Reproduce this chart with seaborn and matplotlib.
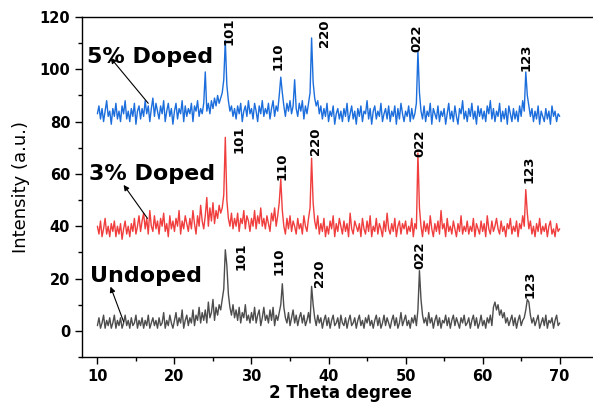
import numpy as np
import pandas as pd
import seaborn as sns
import matplotlib.pyplot as plt
from matplotlib.ticker import MultipleLocator

sns.set_theme(style="ticks")
plt.rcParams['font.family'] = ['DejaVu Sans']
plt.rcParams.update({"text.color": "black", "axes.labelcolor": "black",
                     "xtick.color": "black", "ytick.color": "black"})

# 2-theta grid (degrees), 0.2 deg step from 10 to 70
two_theta = np.round(np.arange(10.0, 70.01, 0.2), 1)

# Intensities, one row per 2 degrees
undoped = [
    2, 5, 1, 3, 6, 1, 4, 2, 5, 1,
    3, 6, 1, 4, 2, 5, 1, 3, 6, 2,
    4, 1, 5, 2, 3, 6, 1, 4, 2, 5,
    1, 4, 2, 6, 1, 3, 5, 2, 4, 1,
    5, 2, 3, 7, 1, 4, 2, 6, 3, 1,
    4, 7, 2, 5, 3, 8, 1, 4, 6, 2,
    5, 3, 8, 2, 6, 4, 9, 3, 7, 4,
    8, 3, 11, 5, 7, 12, 4, 9, 6, 10,
    8, 12, 16, 31, 25, 14, 9, 6, 10, 5,
    8, 4, 9, 3, 7, 5, 10, 4, 6, 3,
    7, 4, 9, 3, 6, 8, 2, 5, 9, 4,
    6, 3, 8, 4, 9, 2, 6, 4, 7, 10,
    18, 9, 5, 3, 7, 2, 5, 8, 3, 6,
    2, 5, 7, 3, 6, 2, 4, 7, 3, 17,
    10, 5, 2, 6, 3, 5, 1, 4, 6, 2,
    5, 1, 4, 6, 2, 3, 5, 1, 6, 3,
    2, 5, 1, 4, 6, 2, 3, 5, 1, 4,
    6, 2, 4, 1, 5, 3, 6, 2, 4, 1,
    4, 6, 2, 5, 1, 3, 6, 2, 5, 3,
    1, 4, 6, 2, 5, 1, 3, 7, 2, 4,
    6, 2, 4, 1, 5, 3, 6, 2, 8, 23,
    12, 6, 3, 5, 2, 7, 3, 5, 1, 4,
    6, 2, 5, 1, 4, 3, 6, 2, 5, 1,
    4, 6, 2, 5, 3, 1, 5, 3, 6, 2,
    3, 5, 1, 4, 6, 2, 5, 1, 3, 6,
    2, 4, 1, 5, 3, 6, 2, 9, 11, 8,
    10, 6, 8, 5, 7, 3, 5, 2, 4, 6,
    2, 5, 1, 4, 6, 2, 4, 5, 8, 12,
    11, 6, 3, 5, 2, 4, 6, 1, 3, 5,
    2, 6, 1, 4, 3, 5, 1, 4, 6, 2,
    3,
]

doped_3 = [
    40, 37, 42, 36, 39, 43, 37, 40, 36, 41,
    38, 42, 36, 40, 37, 41, 35, 39, 42, 37,
    40, 36, 41, 38, 43, 37, 40, 44, 38, 42,
    45, 39, 43, 37, 46, 40, 38, 44, 39, 42,
    37, 43, 40, 45, 38, 41, 36, 44, 39, 42,
    38, 43, 40, 46, 37, 42, 39, 44, 41, 38,
    43, 39, 46, 41, 37, 44, 40, 48, 42, 39,
    44, 51, 40, 47, 42, 49, 41, 46, 43, 48,
    45, 47, 52, 74, 50, 43, 40, 45, 39, 43,
    40, 45, 38, 43, 41, 46, 39, 44, 42, 38,
    43, 40, 46, 39, 44, 41, 47, 40, 43, 39,
    44, 41, 38, 45, 42, 47, 40, 44, 49, 58,
    46, 40, 37, 43, 39, 44, 38, 42, 40, 37,
    43, 39, 41, 37, 44, 40, 38, 43, 47, 66,
    49, 42, 39, 44, 37, 41, 38, 43, 36, 40,
    37, 42, 39, 44, 36, 41, 38, 43, 40, 37,
    42, 38, 41, 36, 45, 39, 37, 42, 40, 38,
    41, 36, 43, 39, 37, 42, 38, 44, 36, 40,
    38, 43, 37, 41, 39, 36, 42, 38, 45, 39,
    37, 41, 38, 43, 36, 40, 42, 37, 41, 39,
    42, 37, 40, 38, 43, 36, 41, 39, 68, 47,
    40, 36, 42, 38, 41, 37, 44, 39, 36, 41,
    38, 42, 37, 46, 39, 41, 36, 43, 38, 40,
    37, 42, 39, 36, 41, 38, 44, 37, 40, 38,
    42, 37, 40, 38, 43, 36, 41, 39, 37, 42,
    38, 41, 36, 44, 39, 37, 42, 38, 40, 43,
    39, 37, 42, 38, 40, 36, 41, 39, 43, 37,
    40, 38, 42, 36, 41, 39, 44, 40, 54, 45,
    39, 42, 37, 40, 36, 41, 38, 43, 37, 40,
    38, 41, 36, 40, 42, 37, 39, 36, 41, 38,
    39,
]

doped_5 = [
    83, 86, 81, 85, 80, 84, 88, 82, 84, 79,
    85, 82, 87, 81, 84, 80, 86, 83, 88, 81,
    84, 80, 85, 82, 87, 79, 84, 86, 81, 85,
    82, 88, 83, 86, 80, 85, 89, 82, 87, 84,
    81, 86, 83, 88, 80, 84, 87, 82, 85, 79,
    84, 87, 81, 85, 83, 88, 80, 86, 82, 85,
    83, 87, 80, 86, 84, 88, 82, 85, 83, 87,
    99, 84, 87, 83, 88, 85, 89, 86, 90, 87,
    89, 91, 96, 111, 94, 88, 84, 86, 82, 85,
    81, 86, 83, 87, 80, 84, 86, 82, 88, 83,
    85, 81, 87, 84, 80, 86, 83, 88, 82, 85,
    83, 87, 81, 85, 88, 82, 86, 84, 90, 97,
    91, 86, 82, 87, 84, 88, 83, 86, 96, 85,
    82, 87, 84, 88, 81, 86, 83, 87, 91, 112,
    95, 89, 86, 88, 83, 86, 81, 85, 82, 87,
    80, 84, 82, 86, 79, 83, 85, 81, 84, 80,
    85, 82, 87, 80, 83, 86, 81, 84, 79, 85,
    82, 86, 80, 84, 83, 88, 81, 85, 79, 84,
    86, 81, 84, 82, 87, 80, 83, 85, 81, 86,
    80, 84, 82, 86, 79, 85, 81, 87, 83, 80,
    84, 82, 86, 80, 85, 81, 83, 87, 107, 91,
    84, 81, 86, 80, 84, 82, 87, 79, 85, 83,
    81, 86, 80, 84, 82, 85, 79, 83, 87, 81,
    84, 80, 86, 82, 79, 85, 83, 88, 81, 84,
    80, 85, 82, 87, 81, 84, 79, 86, 82, 85,
    81, 84, 80, 86, 83, 88, 81, 85, 80, 84,
    82, 87, 80, 84, 81, 85, 79, 86, 83, 80,
    85, 81, 84, 80, 86, 82, 88, 84, 99, 90,
    86, 82, 85, 80, 84, 81, 86, 79, 84, 82,
    80, 85, 81, 84, 79, 86, 82, 84, 80, 83,
    82,
]

samples = ["Undoped", "3% Doped", "5% Doped"]
colors = {"Undoped": "#4d4d4d", "3% Doped": "#f03e3e", "5% Doped": "#1c6edc"}

df = pd.concat([
    pd.DataFrame({"two_theta": two_theta, "intensity": vals, "sample": name})
    for name, vals in zip(samples, [undoped, doped_3, doped_5])
], ignore_index=True)

fig = plt.figure(figsize=(5.93, 4.04), dpi=100)
ax = fig.add_axes([82 / 593, 47 / 404, 516.2 / 593, 340 / 404])

sns.lineplot(data=df, x="two_theta", y="intensity", hue="sample",
             hue_order=samples, palette=colors, estimator=None,
             linewidth=1.0, legend=False, ax=ax)

ax.set_xlim(8, 75)
ax.set_ylim(-10, 120)
ax.xaxis.set_major_locator(MultipleLocator(10))
ax.xaxis.set_minor_locator(MultipleLocator(5))
ax.yaxis.set_major_locator(MultipleLocator(20))
ax.yaxis.set_minor_locator(MultipleLocator(10))
ax.set_xticks(np.arange(10, 71, 10))

for side in ["left", "bottom", "top"]:
    ax.spines[side].set_linewidth(1.0)
    ax.spines[side].set_color("black")
ax.spines["right"].set_visible(False)

ax.tick_params(which="major", direction="out", length=5, width=1.0,
               labelsize=10.5, pad=3.5, top=False, right=False)
ax.tick_params(which="minor", direction="out", length=3, width=1.0,
               top=False, right=False)
for lbl in ax.get_xticklabels() + ax.get_yticklabels():
    lbl.set_fontweight("bold")

ax.set_xlabel("2 Theta degree", fontsize=12, fontweight="bold")
ax.xaxis.set_label_coords(0.5, -0.078)
ax.set_ylabel("Intensity (a.u.)", fontsize=13)
ax.yaxis.set_label_coords(-0.10, 0.5)

# Miller indices above the reflections (x centre, y bottom)
hkl_labels = [
    ("101", 27.1, 109.3), ("110", 33.5, 99.7), ("220", 39.5, 108.6),
    ("022", 51.5, 106.7), ("123", 65.6, 99.3),
    ("101", 28.4, 68.0), ("110", 34.0, 57.7), ("220", 38.3, 67.2),
    ("022", 51.8, 66.5), ("123", 66.0, 56.5),
    ("101", 28.6, 23.2), ("110", 33.6, 21.3), ("220", 38.8, 16.8),
    ("022", 51.9, 23.6), ("123", 66.1, 12.5),
]
for text, x, y in hkl_labels:
    ax.text(x, y, text, rotation=90, ha="center", va="bottom",
            fontsize=9.5, fontweight="bold", color="black")

# Sample names with pointer arrows
names = [("5% Doped", 8.7, 102.5, (16.6, 87.0), (11.7, 104.4)),
         ("3% Doped", 8.96, 57.7, (16.5, 43.0), (13.4, 55.8)),
         ("Undoped", 9.1, 18.8, (13.4, 3.5), (11.7, 16.9))]
for text, x, y, tail, head in names:
    ax.text(x, y, text, ha="left", va="baseline", fontsize=16,
            fontweight="bold", color="black")
    ax.annotate("", xy=head, xytext=tail,
                arrowprops=dict(arrowstyle="-|>", color="black", lw=0.8,
                                mutation_scale=8, shrinkA=0, shrinkB=0))

fig.savefig("out.png", dpi=100)
